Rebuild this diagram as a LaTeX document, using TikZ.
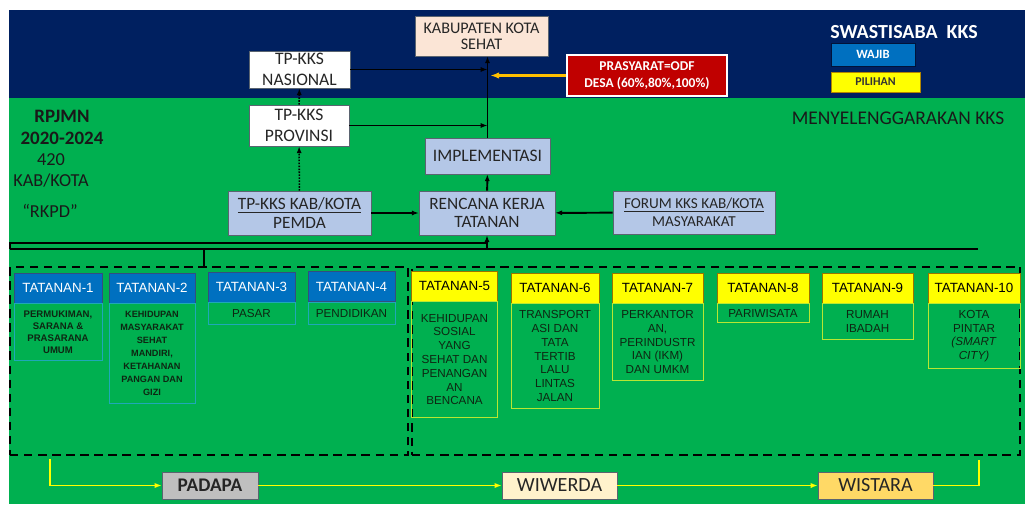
\documentclass[tikz,border=0pt]{standalone}
\usepackage{fontspec}
\setmainfont{Carlito}
\newfontfamily\arialfont{Liberation Sans}
\usetikzlibrary{arrows.meta,positioning}
\definecolor{KksNavy}{HTML}{002060}
\definecolor{KksGreen}{HTML}{00B050}
\definecolor{KksSteel}{HTML}{B4C7E7}
\definecolor{KksPeach}{HTML}{FBE5D6}
\definecolor{KksRed}{HTML}{C00000}
\definecolor{KksBlue}{HTML}{0070C0}
\definecolor{KksYellow}{HTML}{FFFF00}
\definecolor{KksCream}{HTML}{FFF2CC}
\definecolor{KksGold}{HTML}{FFD966}
\definecolor{KksAmber}{HTML}{FFC000}
\definecolor{KksInk}{HTML}{0E2612}
\definecolor{KksTeal}{HTML}{1FA8B8}
\definecolor{KksLime}{HTML}{B8E632}
\definecolor{KksEdge}{HTML}{5A6470}
\tikzset{
  block/.style={draw=KksEdge,fill=KksSteel,align=center,inner sep=1pt,
    text=black!85,font=\fontsize{12.5}{15}\selectfont},
  office/.style={block,fill=white},
  goal/.style={block,fill=KksPeach,font=\fontsize{11.5}{11.5}\selectfont},
  odf/.style={block,fill=KksRed,draw=white,line width=1.2pt,text=white,
    font=\bfseries\fontsize{9.6}{12.5}\selectfont},
  legend/.style={draw=KksNavy!60!black,align=center,inner sep=1pt,
    font=\bfseries\fontsize{9}{10}\selectfont},
  note/.style={align=center,inner sep=0pt,text=black!90},
  head/.style={draw=KksNavy!80,fill=KksBlue,text=white,inner sep=1pt,
    minimum height=7.5mm,font=\arialfont\fontsize{9.5}{11}\selectfont},
  opthead/.style={head,fill=KksYellow,draw=KksAmber!60!black,text=black},
  desc/.style={draw=KksTeal,align=center,inner sep=1pt,text=KksInk,
    font=\arialfont\fontsize{8.3}{9.8}\selectfont},
  optdesc/.style={desc,draw=KksLime},
  stage/.style={draw=KksEdge,align=center,minimum width=28.75mm,
    minimum height=6.75mm,inner sep=1pt,text=black!85,font=\fontsize{14.3}{16}\selectfont},
  zone/.style={draw=black,line width=1.3pt,dash pattern=on 6pt off 4pt},
  flow/.style={-{Latex[length=1.7mm]},line width=1.4pt,draw=black},
  report/.style={flow,line width=1.1pt,densely dotted},
  odfflow/.style={-{Latex[length=2.2mm]},line width=1.6pt,draw=KksAmber},
  stageflow/.style={-{Latex[length=1.8mm]},line width=1.3pt,draw=KksYellow}
}
\begin{document}
\begin{tikzpicture}[x=0.25mm,y=-0.25mm]
  \useasboundingbox (0,0) rectangle (1025,504);
  \fill[KksNavy] (9,10) rectangle (1025,98);
  \fill[KksGreen] (9,98) rectangle (1025,504);

  % governance blocks
  \node[goal,minimum width=33.25mm,minimum height=10mm] (goal) at (481.5,36) {KABUPATEN KOTA\\SEHAT};
  \node[office,minimum width=25.25mm,minimum height=9.25mm] (nasional) at (299.5,69.5) {TP-KKS\\NASIONAL};
  \node[office,minimum width=25mm,minimum height=10.25mm] (provinsi) at (299,125.5) {TP-KKS\\PROVINSI};
  \node[odf,minimum width=40mm,minimum height=10.25mm] (odf) at (647,75.5) {PRASYARAT=ODF\\DESA (60\%,80\%,100\%)};
  \node[block,minimum width=31.25mm,minimum height=9mm] (impl) at (487.5,156) {IMPLEMENTASI};
  \node[block,minimum width=35.75mm,minimum height=11mm,font=\fontsize{12.3}{14}\selectfont] (pemda) at (299.5,213) {\underline{TP-KKS KAB/KOTA}\\PEMDA};
  \node[block,minimum width=34mm,minimum height=11mm,font=\fontsize{12.3}{13}\selectfont] (rencana) at (487,213) {RENCANA KERJA\\TATANAN};
  \node[block,minimum width=40.5mm,minimum height=10.75mm,font=\fontsize{10.8}{12.5}\selectfont] (forum) at (694,212.5) {\underline{FORUM KKS KAB/KOTA}\\MASYARAKAT};

  % legend and side notes
  \node[note,text=white,font=\bfseries\fontsize{14.2}{16}\selectfont] (swast) at (904,32) {SWASTISABA\ \ KKS};
  \node[legend,fill=KksBlue,text=white,minimum width=21mm,minimum height=5.75mm] (wajib) at (873,54.5) {WAJIB};
  \node[legend,fill=KksYellow,draw=KksAmber!70!black,text=black!80,minimum width=22.25mm,minimum height=5mm,
    font=\bfseries\fontsize{8.5}{9}\selectfont] (pilihan) at (875.5,82) {PILIHAN};
  \node[note,font=\fontsize{13.8}{15}\selectfont] (kks) at (898,118) {MENYELENGGARAKAN KKS};
  \node[note,font=\bfseries\fontsize{13.5}{15.6}\selectfont] (rpjmn) at (62,127) {RPJMN\\2020-2024};
  \node[note,font=\fontsize{13}{15}\selectfont] (count) at (51,170.5) {420\\KAB/KOTA};
  \node[note,font=\fontsize{13}{15}\selectfont] (rkpd) at (50,211) {“RKPD”};

  % flows
  \draw[flow] (impl.north) -- (impl.north |- goal.south);
  \draw[flow] (nasional.east) -- (nasional.east -| impl.north);
  \draw[flow] (provinsi.east) -- (provinsi.east -| impl.north);
  \draw[odfflow] (odf.west) -- ([xshift=2pt]odf.west -| impl.north);
  \draw[flow] (rencana) -- (impl);
  \draw[flow] (pemda) -- (rencana);
  \draw[flow] (forum) -- (rencana);
  \draw[report] (pemda) -- (provinsi);
  \draw[report] (provinsi) -- (nasional);

  % tatanan zones
  \node[zone,minimum width=99.5mm,minimum height=47mm] (wajibzone) at (209,361) {};
  \node[zone,minimum width=152mm,minimum height=47mm] (pilihanzone) at (716,361) {};

  % wajib tatanan
  \node[head,minimum width=22mm] (t1) at (58,288) {TATANAN-1};
  \node[desc,below=0pt of t1,minimum width=22mm,minimum height=14.25mm,
    font=\arialfont\bfseries\fontsize{6.8}{8.5}\selectfont] (d1) {PERMUKIMAN,\\SARANA \&\\PRASARANA\\UMUM};
  \node[head,minimum width=21.5mm] (t2) at (152,288) {TATANAN-2};
  \node[desc,below=0pt of t2,minimum width=21.5mm,minimum height=25mm,
    font=\arialfont\bfseries\fontsize{6.5}{9.3}\selectfont] (d2) {KEHIDUPAN\\MASYARAKAT\\SEHAT\\MANDIRI,\\KETAHANAN\\PANGAN DAN\\GIZI};
  \node[head,minimum width=21.75mm] (t3) at (251.5,287) {TATANAN-3};
  \node[desc,below=0pt of t3,minimum width=21.75mm,minimum height=5.5mm] (d3) {PASAR};
  \node[head,minimum width=21.75mm] (t4) at (351.5,286.5) {TATANAN-4};
  \node[desc,below=0pt of t4,minimum width=21.75mm,minimum height=5.5mm] (d4) {PENDIDIKAN};

  % pilihan tatanan
  \node[opthead,minimum width=21.5mm] (t5) at (454.5,286) {TATANAN-5};
  \node[optdesc,below=0pt of t5,minimum width=21.5mm,minimum height=29mm] (d5) {KEHIDUPAN\\SOSIAL\\YANG\\SEHAT DAN\\PENANGAN\\AN\\BENCANA};
  \node[opthead,minimum width=22mm] (t6) at (555,288) {TATANAN-6};
  \node[optdesc,below=0pt of t6,minimum width=22mm,minimum height=26.25mm] (d6) {TRANSPORT\\ASI DAN\\TATA\\TERTIB\\LALU\\LINTAS\\JALAN};
  \node[opthead,minimum width=22.75mm] (t7) at (657.5,288) {TATANAN-7};
  \node[optdesc,below=0pt of t7,minimum width=22.75mm,minimum height=19.25mm] (d7) {PERKANTOR\\AN,\\PERINDUSTR\\IAN (IKM)\\DAN UMKM};
  \node[opthead,minimum width=23mm] (t8) at (763,288) {TATANAN-8};
  \node[optdesc,below=0pt of t8,minimum width=23mm,minimum height=4.75mm] (d8) {PARIWISATA};
  \node[opthead,minimum width=22.75mm] (t9) at (867.5,288) {TATANAN-9};
  \node[optdesc,below=0pt of t9,minimum width=22.75mm,minimum height=9mm] (d9) {RUMAH\\IBADAH};
  \node[opthead,minimum width=23mm] (t10) at (974,288) {TATANAN-10};
  \node[optdesc,below=0pt of t10,minimum width=23mm,minimum height=16.25mm] (d10) {KOTA\\PINTAR\\\textit{(SMART}\\\textit{CITY)}};

  % bus from the zones to the plan
  \coordinate (busL) at (10,249);
  \coordinate (busR) at (978,249);
  \coordinate (drop) at (204,249);
  \draw[line width=1.4pt] (busL) -- (busR);
  \draw[line width=1.4pt] (busL) -- ++(0,-6) coordinate (busT) -- (busT -| rencana.south);
  \draw[flow] (busL -| rencana.south) -- (rencana.south);
  \draw[line width=1.4pt] (drop) -- (drop |- wajibzone.north);

  % stages
  \node[stage,minimum width=24mm,fill=black!25,font=\bfseries\fontsize{13.7}{15}\selectfont] (padapa) at (210,485.5) {PADAPA};
  \node[stage,fill=KksCream] (wiwerda) at (559.5,485.5) {WIWERDA};
  \node[stage,fill=KksGold] (wistara) at (875.5,485.5) {WISTARA};
  \coordinate (lowout) at (50,459);
  \coordinate (highin) at (979,460);
  \draw[stageflow] (lowout) |- (padapa.west);
  \draw[stageflow] (padapa) -- (wiwerda);
  \draw[stageflow] (wiwerda) -- (wistara);
  \draw[line width=1.3pt,draw=KksYellow] (wistara.east) -| (highin);
\end{tikzpicture}
\end{document}
